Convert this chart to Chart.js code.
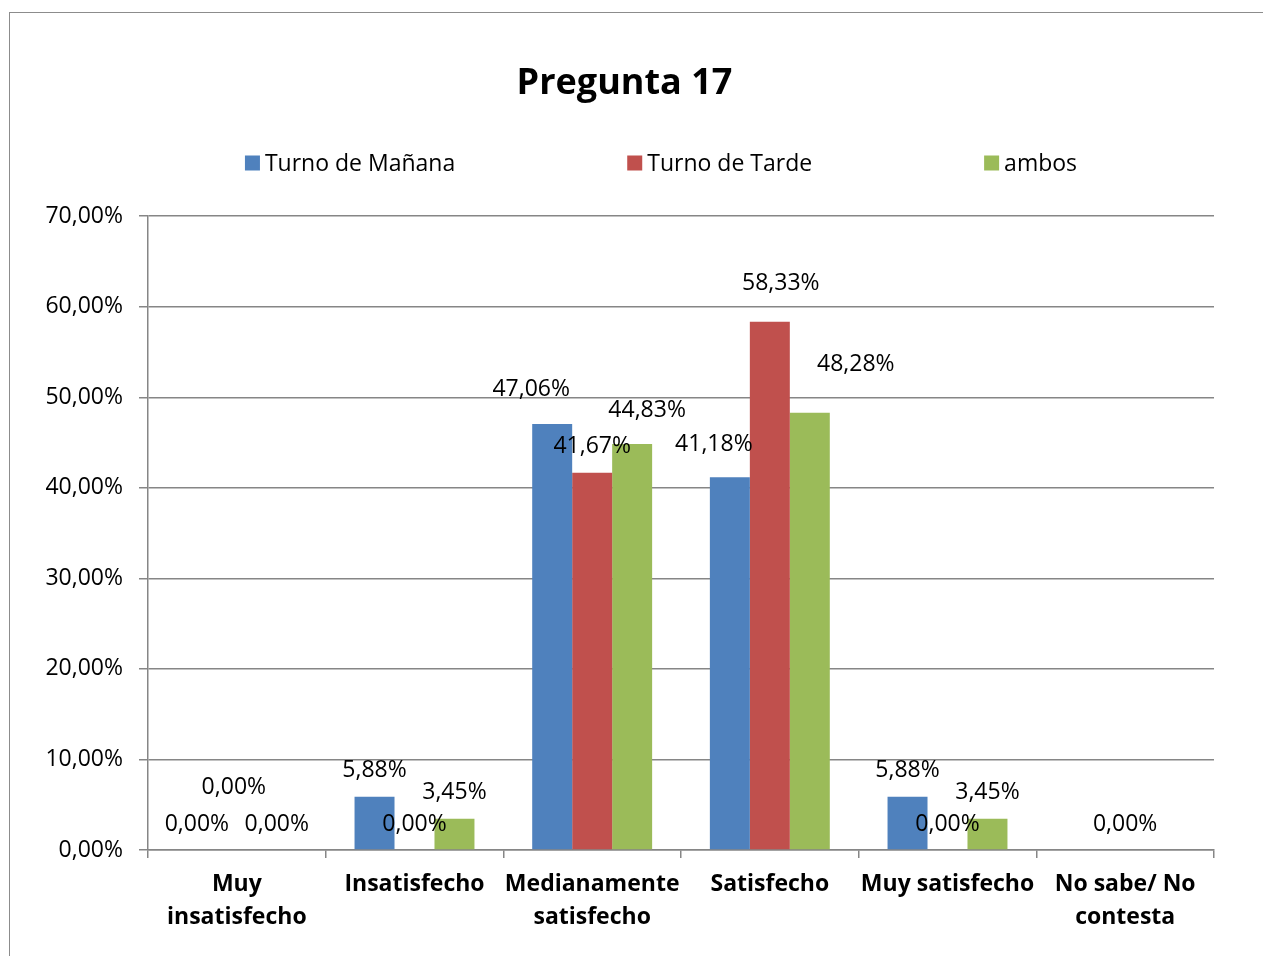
<!DOCTYPE html>
<html>
<head>
<meta charset="utf-8">
<script src="https://cdn.jsdelivr.net/npm/chart.js@4"></script>
<style>
  html, body { margin: 0; padding: 0; background: #fff; }
  #wrap { position: relative; width: 1263px; height: 956px; overflow: hidden; }
  #frame { position: absolute; left: 9px; top: 12px; width: 1400px; height: 1000px;
    border-left: 1.5px solid #8c8c8c; border-top: 1.5px solid #8c8c8c; }
  #c { position: absolute; left: 0; top: 0; }
</style>
</head>
<body>
<div id="wrap">
  <div id="frame"></div>
  <canvas id="c" width="1263" height="956"></canvas>
</div>
<script>
// categorías y valores (%)
const categories = [
  ['Muy', 'insatisfecho'],
  ['Insatisfecho'],
  ['Medianamente', 'satisfecho'],
  ['Satisfecho'],
  ['Muy satisfecho'],
  ['No sabe/ No', 'contesta'],
];
const seriesNames = ['Turno de Mañana', 'Turno de Tarde', 'ambos'];
const manana = [0, 5.88, 47.06, 41.18, 5.88, null];
const tarde = [0, 0, 41.67, 58.33, 0, 0];
const ambos = [0, 3.45, 44.83, 48.28, 3.45, null];
const yTicks = [0, 10, 20, 30, 40, 50, 60, 70];

// desplazamientos manuales de algunas etiquetas (serie -> categoría -> [dx, dy])
const labelShifts = [
  { 2: [-21, -8], 3: [-16, -7] },
  { 0: [-3, -37], 3: [11, -12] },
  { 2: [15, -8], 3: [46, -22] },
];

const FONT = '"Open Sans", sans-serif';
const fmt = (v) => `${v.toFixed(2).replace('.', ',')}%`;

// etiquetas de valor encima de las barras
const valueLabels = {
  id: 'valueLabels',
  afterDatasetsDraw(chart) {
    const { ctx } = chart;
    ctx.save();
    ctx.font = `23px ${FONT}`;
    ctx.fillStyle = '#000';
    ctx.textAlign = 'center';
    ctx.textBaseline = 'middle';
    chart.data.datasets.forEach((ds, i) => {
      const meta = chart.getDatasetMeta(i);
      meta.data.forEach((bar, j) => {
        const v = ds.data[j];
        if (v === null || v === undefined) return;
        const shift = labelShifts[i][j] || [0, 0];
        ctx.fillText(fmt(v), bar.x + shift[0], bar.y - 26 + shift[1]);
      });
    });
    ctx.restore();
  },
};

// leyenda horizontal con separación amplia entre elementos
const wideLegend = {
  id: 'wideLegend',
  afterDraw(chart, args, opts) {
    const { ctx } = chart;
    ctx.save();
    ctx.font = `23px ${FONT}`;
    ctx.textBaseline = 'middle';
    ctx.textAlign = 'left';
    const box = 15;
    const items = chart.data.datasets.map((ds) => ({
      label: ds.label,
      color: ds.backgroundColor,
      w: box + 5 + ctx.measureText(ds.label).width,
    }));
    const total = items.reduce((s, it) => s + it.w, 0) + opts.gap * (items.length - 1);
    let x = opts.centerX - total / 2;
    items.forEach((it) => {
      ctx.fillStyle = it.color;
      ctx.fillRect(x, opts.y - box / 2, box, box);
      ctx.fillStyle = '#000';
      ctx.fillText(it.label, x + box + 5, opts.y + 1);
      x += it.w + opts.gap;
    });
    ctx.restore();
  },
};

const gridColor = '#868686';

new Chart(document.getElementById('c'), {
  type: 'bar',
  data: {
    labels: categories,
    datasets: [
      { label: seriesNames[0], data: manana, backgroundColor: '#4F81BD' },
      { label: seriesNames[1], data: tarde, backgroundColor: '#C0504D' },
      { label: seriesNames[2], data: ambos, backgroundColor: '#9BBB59' },
    ],
  },
  options: {
    responsive: false,
    animation: false,
    categoryPercentage: 0.675,
    barPercentage: 1,
    layout: { padding: { left: 35, right: 49, top: 0, bottom: 0 } },
    plugins: {
      legend: { display: false },
      tooltip: { enabled: false },
      title: {
        display: true,
        text: 'Pregunta 17',
        color: '#000',
        font: { family: FONT, size: 36, weight: 'bold', lineHeight: 1.2 },
        padding: { top: 62, bottom: 111 },
      },
      wideLegend: { y: 163, centerX: 661, gap: 172 },
    },
    scales: {
      y: {
        min: 0,
        max: 70,
        afterFit: (scale) => { scale.width = 113; },
        afterBuildTicks: (scale) => { scale.ticks = yTicks.map((v) => ({ value: v })); },
        ticks: {
          color: '#000',
          font: { family: FONT, size: 23 },
          padding: 16,
          callback: (v) => fmt(v),
        },
        grid: { color: gridColor, lineWidth: 1.5, tickLength: 9, drawTicks: true },
        border: { display: true, color: gridColor, width: 1.5 },
      },
      x: {
        afterFit: (scale) => { scale.height = 106; },
        ticks: {
          color: '#000',
          font: { family: FONT, size: 23, weight: 'bold', lineHeight: 33 / 23 },
          padding: 10,
          maxRotation: 0,
          autoSkip: false,
        },
        grid: {
          offset: true,
          drawOnChartArea: false,
          drawTicks: true,
          tickLength: 8,
          color: gridColor,
          lineWidth: 1.5,
        },
        border: { display: true, color: gridColor, width: 1.5 },
      },
    },
  },
  plugins: [valueLabels, wideLegend],
});
</script>
</body>
</html>
